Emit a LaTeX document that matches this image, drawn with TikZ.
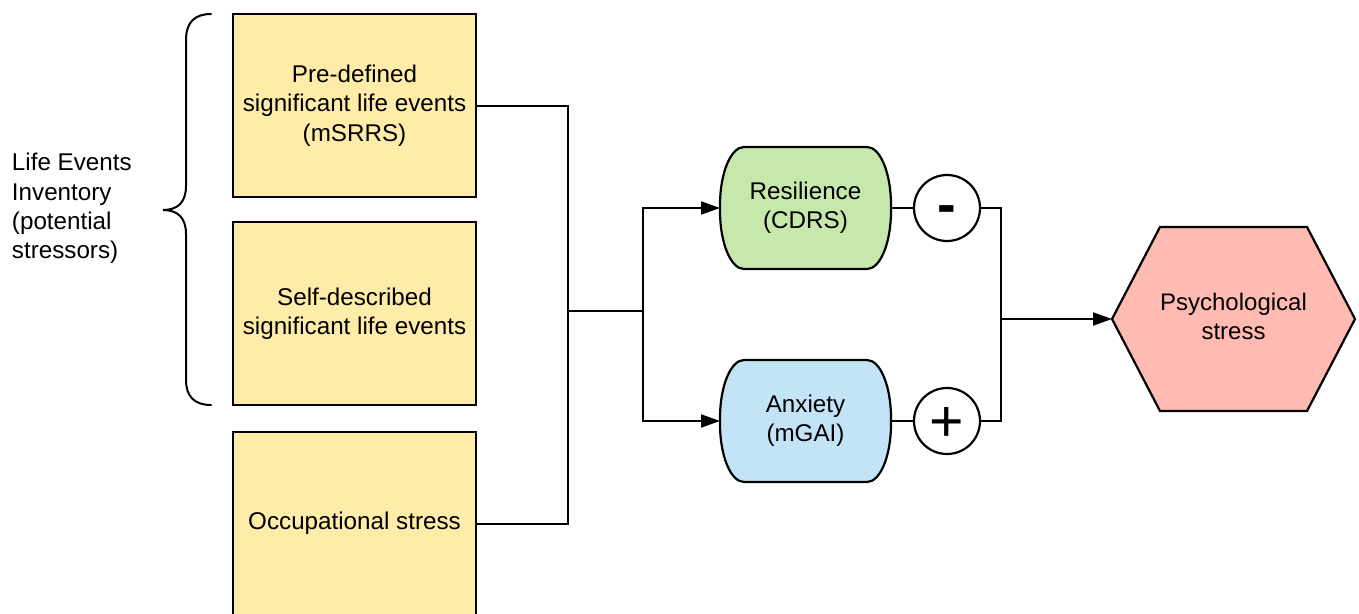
\documentclass[tikz,border=0pt]{standalone}
\usepackage{fontspec}
\setmainfont{Liberation Sans}
\usetikzlibrary{arrows.meta}
\definecolor{boxyellow}{RGB}{255,236,168}
\definecolor{resgreen}{RGB}{199,232,172}
\definecolor{anxblue}{RGB}{195,228,247}
\definecolor{hexsalmon}{RGB}{255,186,177}
\tikzset{
  lbl/.style={font=\fontsize{24.2}{29.3}\selectfont, align=center, inner sep=0pt, outer sep=0pt},
  eventbox/.style={lbl, draw=black, line width=2.2pt, fill=boxyellow, minimum width=243pt, minimum height=183pt},
  shapeline/.style={draw=black, line width=2.2pt},
  rndbox/.style={lbl, minimum width=171pt, minimum height=121pt},
  signcirc/.style={circle, draw=black, line width=2.2pt, fill=white, minimum size=66pt, inner sep=0pt, outer sep=0pt},
  conn/.style={draw=black, line width=2pt},
  arr/.style={conn, -{Triangle[length=19pt,width=13pt]}},
}
\begin{document}
\begin{tikzpicture}[x=1pt,y=-1pt]
\clip (0,0) rectangle (1359,613);
\fill[white] (0,0) rectangle (1359,613);

% event boxes
\node[eventbox] (b1) at (354.5,105.5) {Pre-defined\\significant life events\\(mSRRS)};
\node[eventbox] (b2) at (354.5,313.5) {Self-described\\significant life events};
\node[eventbox] (b3) at (354.5,523.5) {Occupational stress};

% brace and side label
\draw[line width=2pt, line cap=round] (211,14) .. controls (195,14) and (186,22) .. (186,40)
  -- (186,186) .. controls (186,202) and (178,210) .. (163,210)
  .. controls (178,210) and (186,218) .. (186,234)
  -- (186,380) .. controls (186,397) and (195,405) .. (211,405);
\node[lbl, align=left, anchor=west] (lei) at (12,208.5) {Life Events\\Inventory\\(potential\\stressors)};

% resilience shape
\path[shapeline, fill=resgreen] (744,147) -- (867,147) .. controls (880.2,147) and (891,173) .. (891,205)
  -- (891,211) .. controls (891,243) and (880.2,269) .. (867,269) -- (744,269)
  .. controls (730.8,269) and (720,243) .. (720,211) -- (720,205)
  .. controls (720,173) and (730.8,147) .. (744,147) -- cycle;
\node[rndbox] (res) at (805.5,208) {Resilience\\(CDRS)};

% anxiety shape
\path[shapeline, fill=anxblue] (744,360) -- (867,360) .. controls (880.2,360) and (891,386) .. (891,418)
  -- (891,424) .. controls (891,456) and (880.2,482) .. (867,482) -- (744,482)
  .. controls (730.8,482) and (720,456) .. (720,424) -- (720,418)
  .. controls (720,386) and (730.8,360) .. (744,360) -- cycle;
\node[rndbox] (anx) at (805.5,421) {Anxiety\\(mGAI)};

% sign circles
\node[signcirc] (minus) at (947,208) {};
\node[signcirc] (plus) at (947,421) {};
\node[anchor=base, inner sep=0pt, font=\fontsize{56}{60}\selectfont\bfseries] (minustxt) at (947,223) {-};
\node[anchor=base, inner sep=0pt, font=\fontsize{59}{60}\selectfont] (plustxt) at (947,441.5) {+};

% hexagon
\path[shapeline, fill=hexsalmon] (1112,319) -- (1160,227) -- (1307,227) -- (1355,319) -- (1307,411) -- (1160,411) -- cycle;
\coordinate (hexw) at (1112,319);
\node[lbl, font=\fontsize{24}{29.3}\selectfont] (hex) at (1233.5,316.5) {Psychological\\stress};

% connectors
\coordinate (j1) at (568,311);
\coordinate (j2) at (643,311);
\coordinate (j3) at (1001,319);
\draw[conn] (b1.east) -| (j1) |- (b3.east);
\draw[conn] (j1) -- (j2);
\draw[arr] (j2) |- (res.west);
\draw[arr] (j2) |- (anx.west);
\draw[conn] (res.east) -- (minus.west);
\draw[conn] (anx.east) -- (plus.west);
\draw[conn] (minus.east) -| (j3) |- (plus.east);
\draw[arr] (j3) -- (hexw);
\end{tikzpicture}
\end{document}
